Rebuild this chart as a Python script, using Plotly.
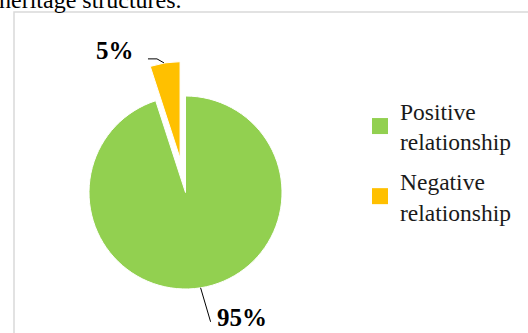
import math
import plotly.graph_objects as go

# ---- data ----
labels = ["Positive<br>relationship", "Negative<br>relationship"]
values = [95, 5]
pct_text = ["95%", "5%"]
colors = ["#92D050", "#FFC000"]
pulls = [0, 0.36]
caption = "heritage structures."

SERIF = "Liberation Serif, Times New Roman, Times, serif"

# ---- layout geometry (pixels) ----
W, H = 528, 333
cx, cy, r = 185.5, 192.5, 96.5
maxpull = max(pulls)
half = r * (1 + maxpull)
dom_x = [(cx - half) / W, (cx + half) / W]
dom_y = [(H - cy - half) / H, (H - cy + half) / H]

def px(x):
    return x / W

def py(y):
    return 1 - y / H

fig = go.Figure()
fig.add_trace(go.Pie(
    labels=labels, values=values, sort=False, direction="clockwise", rotation=0,
    pull=pulls, marker=dict(colors=colors, line=dict(color="white", width=1)),
    textinfo="none", hoverinfo="none", domain=dict(x=dom_x, y=dom_y), showlegend=False,
))
# legend entries with larger square keys
for i, (lab, col) in enumerate(zip(labels, colors)):
    fig.add_trace(go.Scatter(x=[None], y=[None], mode="markers", name=lab,
                             legendgroup="g%d" % i,
                             marker=dict(symbol="square", size=16, color=col)))

# label anchors derived from slice mid-angles
total = sum(values)
cum = 0
anchors = []
for v, p in zip(values, pulls):
    mid = (cum + v / 2) / total * 2 * math.pi
    cum += v
    rr = r * (1 + p)
    anchors.append((cx + rr * math.sin(mid), cy - rr * math.cos(mid)))

shapes = []
annotations = []
# 95% label: straight leader
ax0, ay0 = anchors[0]
shapes.append(dict(type="line", xref="paper", yref="paper",
                   x0=px(ax0), y0=py(ay0), x1=px(ax0 + 10), y1=py(ay0 + 34),
                   line=dict(color="black", width=1)))
annotations.append(dict(text="<b>" + pct_text[0] + "</b>", xref="paper", yref="paper",
                        x=px(ax0 + 14), y=py(ay0 + 30), xanchor="left", yanchor="middle",
                        showarrow=False, font=dict(family=SERIF, size=25, color="black")))
# 5% label: bent leader
ax1, ay1 = anchors[1]
shapes.append(dict(type="path", xref="paper", yref="paper",
                   path="M {},{} L {},{} L {},{}".format(px(ax1 - 1), py(ay1), px(ax1 - 8), py(ay1 - 4),
                                                         px(ax1 - 17), py(ay1 - 4)),
                   line=dict(color="black", width=1)))
annotations.append(dict(text="<b>" + pct_text[1] + "</b>", xref="paper", yref="paper",
                        x=px(ax1 - 29), y=py(ay1 - 12), xanchor="right", yanchor="middle",
                        showarrow=False, font=dict(family=SERIF, size=25, color="black")))
# cut-off caption text above chart
annotations.append(dict(text=caption, xref="paper", yref="paper", x=px(-3), y=py(0),
                        xanchor="left", yanchor="middle", showarrow=False,
                        font=dict(family=SERIF, size=24, color="black")))
# chart area frame
shapes.append(dict(type="rect", xref="paper", yref="paper", x0=px(14), y0=-0.05, x1=1.05, y1=py(12),
                   line=dict(color="#D9D9D9", width=1.5), layer="below"))

fig.update_layout(
    width=W, height=H, margin=dict(l=0, r=0, t=0, b=0),
    paper_bgcolor="white", plot_bgcolor="white",
    showlegend=True,
    xaxis=dict(visible=False), yaxis=dict(visible=False),
    legend=dict(x=px(360), y=py(89), xanchor="left", yanchor="top",
                font=dict(family=SERIF, size=23.5, color="#1a1a1a"),
                itemclick=False, tracegroupgap=6),
    shapes=shapes, annotations=annotations,
)
fig.write_html("out.html")
